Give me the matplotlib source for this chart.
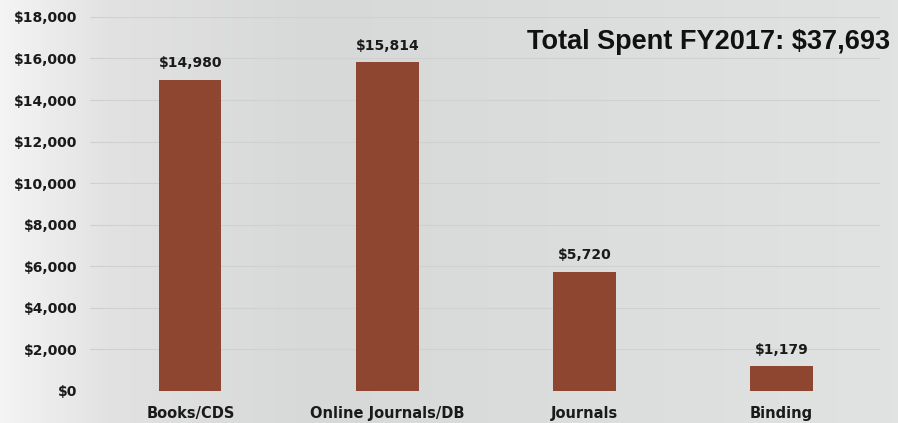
import numpy as np
import matplotlib.pyplot as plt
from matplotlib.colors import LinearSegmentedColormap

# Data
categories = ['Books/CDS', 'Online Journals/DB', 'Journals', 'Binding']
spent = [14980, 15814, 5720, 1179]
total_label = 'Total Spent FY2017: $37,693'
y_ticks = [0, 2000, 4000, 6000, 8000, 10000, 12000, 14000, 16000, 18000]

plt.rcParams['font.family'] = ['DejaVu Sans']

fig = plt.figure(figsize=(8.98, 4.23), dpi=100)

# Background gradient (light at the left edge, grey in the middle)
bg = fig.add_axes([0, 0, 1, 1], zorder=-10)
bg_cmap = LinearSegmentedColormap.from_list(
    'bg', [(0.0, '#f4f4f4'), (0.12, '#e2e2e2'), (0.35, '#d7d8d8'), (1.0, '#e1e2e2')])
bg.imshow(np.linspace(0, 1, 256).reshape(1, -1), aspect='auto', cmap=bg_cmap,
          extent=[0, 1, 0, 1])
bg.axis('off')

ax = fig.add_axes([0.1002, 0.0757, 0.8798, 0.8843])
ax.patch.set_alpha(0)

x = np.arange(len(categories))
bars = ax.bar(x, spent, width=0.315, color='#8e4630', zorder=3)

for rect, val in zip(bars, spent):
    ax.annotate(f'${val:,}', (rect.get_x() + rect.get_width() / 2, val),
                xytext=(0, 12), textcoords='offset points', ha='center',
                va='center', fontsize=10, fontweight='bold', color='#1a1a1a')

ax.set_xlim(-0.51, 3.5)
ax.set_ylim(0, 18000)
ax.set_yticks(y_ticks)
ax.set_yticklabels([f'${t:,}' for t in y_ticks], fontsize=10, fontweight='bold',
                   color='#1a1a1a')
ax.set_xticks(x)
ax.set_xticklabels(categories, fontsize=10.5, fontweight='bold', color='#1a1a1a')
ax.tick_params(axis='both', length=0)
ax.tick_params(axis='y', pad=9)
ax.tick_params(axis='x', pad=11)

ax.grid(axis='y', color='#d0d0d0', linewidth=0.8, zorder=0)
for s in ax.spines.values():
    s.set_visible(False)

fig.text(0.991, 0.9, total_label, ha='right', va='center',
         fontsize=19.5, fontweight='bold', color='#111111',
         family=['Liberation Sans', 'DejaVu Sans'])

fig.savefig('out.png', dpi=100)
